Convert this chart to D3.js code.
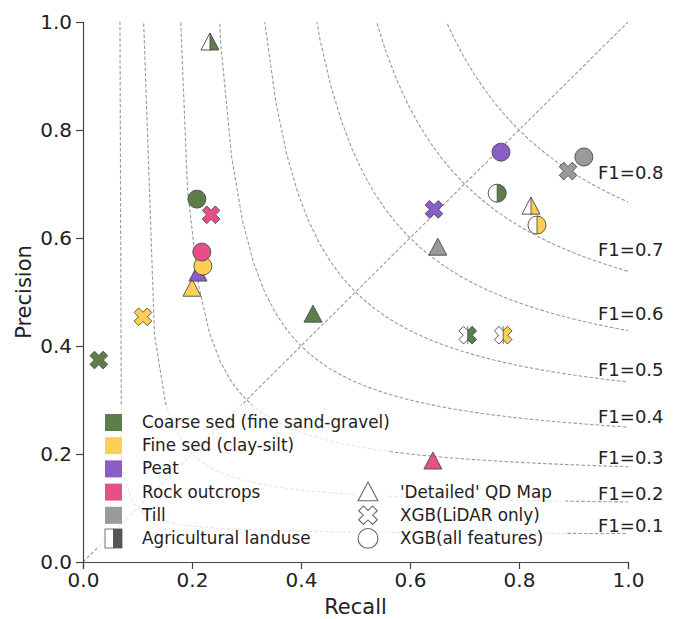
<!DOCTYPE html>
<html>
<head>
<meta charset="utf-8">
<script src="https://cdn.jsdelivr.net/npm/d3@7"></script>
<style>
  body { margin: 0; background: #fff; }
  svg text { font-family: "DejaVu Sans", sans-serif; fill: #222; }
</style>
</head>
<body>
<div id="chart"></div>
<script>
// classes in legend order
const classes = ["Coarse sed (fine sand-gravel)", "Fine sed (clay-silt)", "Peat", "Rock outcrops", "Till"];
const classColours = ["#5e7e48", "#fdcf55", "#8b5dc8", "#e84f88", "#9a9a9a"];

// 'Detailed' QD map (triangles)
const qdRecall = [0.422, 0.200, 0.211, 0.642, 0.651];
const qdPrecision = [0.459, 0.507, 0.535, 0.187, 0.583];
// XGB LiDAR only (crosses)
const lidarRecall = [0.029, 0.110, 0.644, 0.235, 0.890];
const lidarPrecision = [0.374, 0.454, 0.653, 0.643, 0.724];
// XGB all features (circles)
const allRecall = [0.209, 0.220, 0.767, 0.218, 0.919];
const allPrecision = [0.672, 0.548, 0.759, 0.574, 0.750];

// agricultural landuse, for coarse sed and fine sed (half-filled markers)
const agriClasses = [0, 1];
const agriQdRecall = [0.233, 0.822];
const agriQdPrecision = [0.963, 0.659];
const agriLidarRecall = [0.706, 0.771];
const agriLidarPrecision = [0.420, 0.420];
const agriAllRecall = [0.760, 0.833];
const agriAllPrecision = [0.683, 0.624];

const f1Levels = [0.1, 0.2, 0.3, 0.4, 0.5, 0.6, 0.7, 0.8];
const tickValues = [0, 0.2, 0.4, 0.6, 0.8, 1.0];

const methods = ["'Detailed' QD Map", "XGB(LiDAR only)", "XGB(all features)"];
const methodShapes = ["triangle", "cross", "circle"];

const margin = {top: 22, right: 52, bottom: 57, left: 83};
const width = 680 - margin.left - margin.right;
const height = 619 - margin.top - margin.bottom;

const svg = d3.select("#chart").append("svg")
    .attr("width", 680).attr("height", 619)
  .append("g")
    .attr("transform", `translate(${margin.left},${margin.top})`);

const x = d3.scaleLinear().domain([0, 1]).range([0, width]);
const y = d3.scaleLinear().domain([0, 1]).range([height, 0]);

// marker shapes
function shapePath(shape) {
    if (shape === "triangle") return "M0,-9L9,8L-9,8Z";
    if (shape === "circle") return "M9,0A9,9 0 1,1 -9,0A9,9 0 1,1 9,0Z";
    // filled X: rotated plus
    const L = 9.3, w = 3.2;
    const pts = [[w, L], [w, w], [L, w], [L, -w], [w, -w], [w, -L], [-w, -L], [-w, -w], [-L, -w], [-L, w], [-w, w], [-w, L]];
    const c = Math.SQRT1_2;
    return "M" + pts.map(([a, b]) => [(a - b) * c, (a + b) * c].map(v => v.toFixed(2)).join(",")).join("L") + "Z";
}

const defs = d3.select("#chart svg").append("defs");
defs.append("clipPath").attr("id", "rightHalf")
    .append("rect").attr("x", 0).attr("y", -20).attr("width", 20).attr("height", 40);
defs.append("clipPath").attr("id", "plotArea")
    .append("rect").attr("x", 0).attr("y", 0).attr("width", width).attr("height", height);

// iso-F1 curves, sampled like np.linspace(0.01, 1, 50)
const line = d3.line().x(d => x(d[0])).y(d => y(d[1]));
const curves = svg.append("g").attr("clip-path", "url(#plotArea)");
const sampleX = d3.range(50).map(i => 0.01 + 0.99 * i / 49);
f1Levels.forEach(f => {
    const pts = sampleX.map(r => [r, f * r / (2 * r - f)]).filter(d => d[1] >= 0);
    curves.append("path")
        .attr("d", line(pts))
        .attr("fill", "none")
        .attr("stroke", "#9a9a9a")
        .attr("stroke-width", 1.1)
        .attr("stroke-dasharray", "3.5,2");
    const xl = sampleX[45];
    svg.append("text")
        .attr("x", x(0.945))
        .attr("y", y(f * xl / (2 * xl - f) + 0.014))
        .attr("dominant-baseline", "central")
        .attr("font-size", 18)
        .text(`F1=${f.toFixed(1)}`);
});
curves.append("path")
    .attr("d", line([[0, 0], [1, 1]]))
    .attr("fill", "none")
    .attr("stroke", "#9a9a9a")
    .attr("stroke-width", 1.1)
    .attr("stroke-dasharray", "3.5,2");

// axes
const xAxis = svg.append("g")
    .attr("transform", `translate(0,${height})`)
    .call(d3.axisBottom(x).tickValues(tickValues).tickFormat(d3.format(".1f")).tickSizeOuter(0).tickSize(7).tickPadding(4));
const yAxis = svg.append("g")
    .call(d3.axisLeft(y).tickValues(tickValues).tickFormat(d3.format(".1f")).tickSizeOuter(0).tickSize(7).tickPadding(4));
[xAxis, yAxis].forEach(ax => {
    ax.selectAll("path, line").attr("stroke", "#444").attr("stroke-width", 1.2);
    ax.selectAll("text").attr("font-size", 20).attr("fill", "#222")
        .attr("font-family", "DejaVu Sans, sans-serif");
});

svg.append("text")
    .attr("x", width / 2).attr("y", height + 52)
    .attr("text-anchor", "middle").attr("font-size", 21)
    .text("Recall");
svg.append("text")
    .attr("transform", `translate(${24 - margin.left},${height / 2}) rotate(-90)`)
    .attr("text-anchor", "middle").attr("dominant-baseline", "central").attr("font-size", 21)
    .text("Precision");

// data markers
function drawMarker(g, shape, colour, half) {
    const d = shapePath(shape);
    if (half) {
        g.append("path").attr("d", d).attr("fill", "#fff");
        g.append("path").attr("d", d).attr("fill", colour).attr("clip-path", "url(#rightHalf)");
        g.append("line").attr("x1", 0).attr("x2", 0).attr("y1", -9).attr("y2", 9)
            .attr("stroke", "#444").attr("stroke-width", 0.8);
        g.append("path").attr("d", d).attr("fill", "none").attr("stroke", "#444").attr("stroke-width", 0.9);
    } else {
        g.append("path").attr("d", d).attr("fill", colour).attr("stroke", "#4a4a4a").attr("stroke-width", 0.9);
    }
}

const series = [
    {shape: "triangle", rec: qdRecall, prec: qdPrecision, aRec: agriQdRecall, aPrec: agriQdPrecision},
    {shape: "cross", rec: lidarRecall, prec: lidarPrecision, aRec: agriLidarRecall, aPrec: agriLidarPrecision},
    {shape: "circle", rec: allRecall, prec: allPrecision, aRec: agriAllRecall, aPrec: agriAllPrecision}
];
const markers = svg.append("g");
series.forEach(s => {
    classes.forEach((c, i) => {
        const g = markers.append("g").attr("transform", `translate(${x(s.rec[i])},${y(s.prec[i])})`);
        drawMarker(g, s.shape, classColours[i], false);
    });
    agriClasses.forEach((ci, j) => {
        const g = markers.append("g").attr("transform", `translate(${x(s.aRec[j])},${y(s.aPrec[j])})`);
        drawMarker(g, s.shape, classColours[ci], true);
    });
});

// legends
const rowH = 23.2;
const leg1 = svg.append("g").attr("transform", `translate(${105 - margin.left},${422 - margin.top})`);
leg1.append("rect").attr("x", -8).attr("y", -17).attr("width", 292).attr("height", 145)
    .attr("rx", 4).attr("fill", "#fff").attr("opacity", 0.75);
const legItems = classes.concat(["Agricultural landuse"]);
legItems.forEach((name, i) => {
    const row = leg1.append("g").attr("transform", `translate(0,${i * rowH})`);
    if (i < classes.length) {
        row.append("rect").attr("x", 0).attr("y", -8).attr("width", 17).attr("height", 17)
            .attr("fill", classColours[i]);
    } else {
        row.append("rect").attr("x", 0).attr("y", -9).attr("width", 8.5).attr("height", 19)
            .attr("fill", "#fff").attr("stroke", "#555").attr("stroke-width", 0.8);
        row.append("rect").attr("x", 8.5).attr("y", -9).attr("width", 8.5).attr("height", 19)
            .attr("fill", "#555").attr("stroke", "#555").attr("stroke-width", 0.8);
    }
    row.append("text").attr("x", 37).attr("y", 0)
        .attr("dominant-baseline", "central").attr("font-size", 16.8)
        .text(name);
});

const leg2 = svg.append("g").attr("transform", `translate(${368 - margin.left},${492 - margin.top})`);
leg2.append("rect").attr("x", -14).attr("y", -14).attr("width", 212).attr("height", 72)
    .attr("rx", 4).attr("fill", "#fff").attr("opacity", 0.75);
methods.forEach((m, i) => {
    const row = leg2.append("g").attr("transform", `translate(0,${i * rowH})`);
    const shp = methodShapes[i];
    const scale = shp === "cross" ? 1.05 : 1.1;
    row.append("path").attr("d", shapePath(shp))
        .attr("transform", `scale(${scale})`)
        .attr("fill", "#fff").attr("stroke", "#666").attr("stroke-width", 1);
    row.append("text").attr("x", 32).attr("y", 0)
        .attr("dominant-baseline", "central").attr("font-size", 16.8)
        .text(m);
});
</script>
</body>
</html>
